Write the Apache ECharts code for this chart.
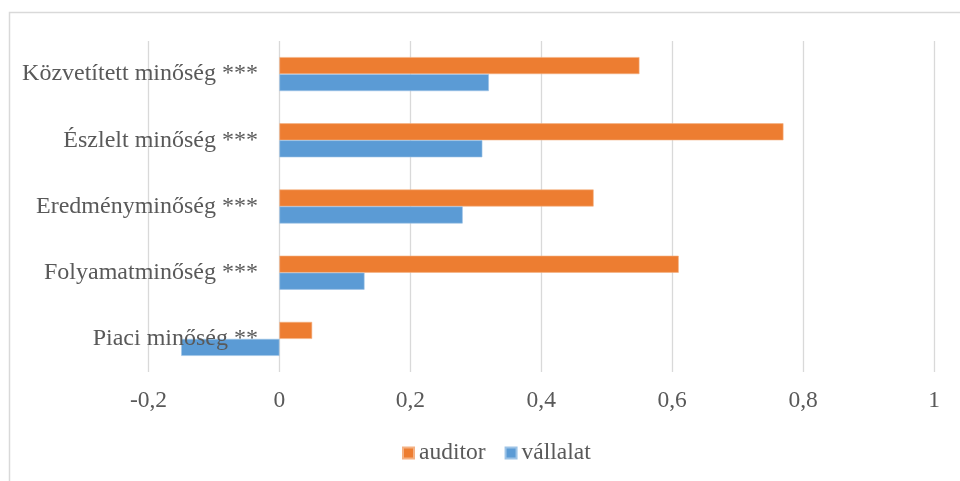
<!DOCTYPE html>
<html>
<head>
<meta charset="utf-8">
<script src="https://cdn.jsdelivr.net/npm/echarts@6/dist/echarts.min.js"></script>
<style>
  html, body { margin: 0; padding: 0; background: #ffffff; }
  #chart { width: 960px; height: 481px; }
</style>
</head>
<body>
<div id="chart"></div>
<script>
// Quality dimensions, bottom to top on the category axis
const categories = [
  'Piaci minőség **',
  'Folyamatminőség ***',
  'Eredményminőség ***',
  'Észlelt minőség ***',
  'Közvetített minőség ***'
];
const auditorValues = [0.05, 0.61, 0.48, 0.77, 0.55];
const vallalatValues = [-0.15, 0.13, 0.28, 0.31, 0.32];
const seriesNames = ['auditor', 'vállalat'];

const FONT = '"Liberation Serif", "Times New Roman", serif';
const TEXT = '#595959';
const GRID = '#d9d9d9';

const chart = echarts.init(document.getElementById('chart'), null, { renderer: 'canvas' });

chart.setOption({
  animation: false,
  backgroundColor: '#ffffff',
  graphic: [{
    type: 'rect',
    shape: { x: 9.5, y: 12.5, width: 960, height: 480 },
    style: { fill: 'none', stroke: GRID, lineWidth: 1.5 },
    silent: true
  }],
  legend: {
    data: seriesNames,
    left: 397,
    top: 436,
    icon: 'rect',
    itemWidth: 11,
    itemHeight: 11,
    itemGap: 19,
    textStyle: { fontFamily: FONT, fontSize: 23.5, color: TEXT }
  },
  grid: {
    left: 148.5, right: 26, top: 41, bottom: 109,
    containLabel: false,
    outerBoundsMode: 'none'
  },
  xAxis: {
    type: 'value',
    min: -0.2,
    max: 1,
    interval: 0.2,
    axisLine: { show: false },
    axisTick: { show: false },
    splitLine: { show: true, lineStyle: { color: GRID, width: 1.3 } },
    axisLabel: {
      margin: 17,
      fontFamily: FONT,
      fontSize: 23.5,
      color: TEXT,
      formatter: v => String(Math.round(v * 10) / 10).replace('.', ',')
    }
  },
  yAxis: {
    type: 'category',
    data: categories,
    z: 5,
    axisLine: { show: false, onZero: false },
    axisTick: { show: false },
    splitLine: { show: false },
    axisLabel: {
      // labels sit just left of the zero line, inside the plot
      margin: -109.5,
      fontFamily: FONT,
      fontSize: 24,
      color: TEXT
    }
  },
  series: [
    {
      name: 'auditor',
      type: 'bar',
      data: auditorValues,
      barWidth: 17,
      barGap: '0%',
      itemStyle: { color: '#ed7d31', borderColor: '#f4b183', borderWidth: 0.6 }
    },
    {
      name: 'vállalat',
      type: 'bar',
      data: vallalatValues,
      barWidth: 17,
      barGap: '0%',
      itemStyle: { color: '#5b9bd5', borderColor: '#9dc3e6', borderWidth: 0.6 }
    }
  ]
});
</script>
</body>
</html>
